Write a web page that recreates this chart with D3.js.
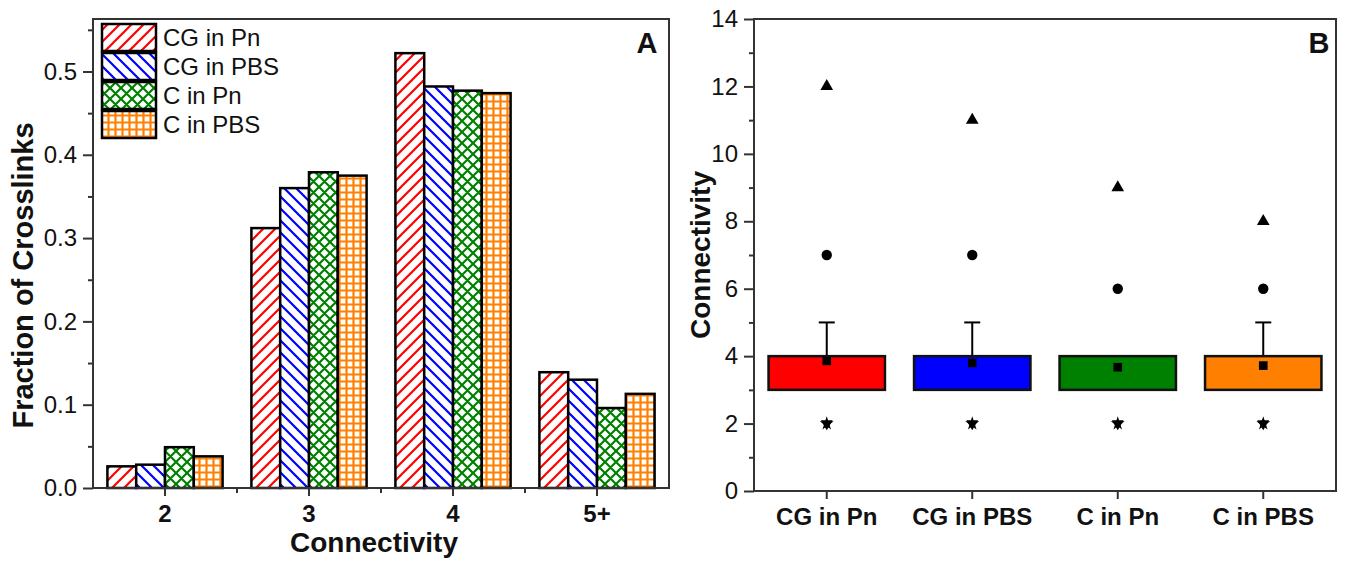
<!DOCTYPE html>
<html>
<head>
<meta charset="utf-8">
<script src="https://d3js.org/d3.v7.min.js"></script>
<style>
  body { margin: 0; background: #fff; }
  svg { font-family: "Liberation Sans", Arial, sans-serif; }
</style>
</head>
<body>
<script>
// panel A data
var categoriesA = ["2", "3", "4", "5+"];
var seriesNames = ["CG in Pn", "CG in PBS", "C in Pn", "C in PBS"];
var cgInPn  = [0.026, 0.312, 0.522, 0.139];
var cgInPbs = [0.028, 0.360, 0.482, 0.130];
var cInPn   = [0.049, 0.379, 0.477, 0.096];
var cInPbs  = [0.038, 0.375, 0.474, 0.113];
var ticksA = [0, 0.1, 0.2, 0.3, 0.4, 0.5];

// panel B data (box stats)
var q1Vals       = [3, 3, 3, 3];
var q3Vals       = [4, 4, 4, 4];
var whiskerHigh  = [5, 5, 4, 5];
var meanVals     = [3.86, 3.80, 3.67, 3.72];
var p99Vals      = [7, 7, 6, 6];
var maxVals      = [12, 11, 9, 8];
var minVals      = [2, 2, 2, 2];
var ticksB = [0, 2, 4, 6, 8, 10, 12, 14];

var colors = ["#ff0000", "#0000ff", "#008000", "#ff8000"];
var patternIds = ["pRed", "pBlue", "pGreen", "pOrange"];
var frameColor = "#333";

var svg = d3.select("body").append("svg")
  .attr("width", 1347)
  .attr("height", 562);

// hatch patterns
var defs = svg.append("defs");
function hatch(id, size, d, color) {
  var p = defs.append("pattern")
    .attr("id", id)
    .attr("patternUnits", "userSpaceOnUse")
    .attr("width", size).attr("height", size);
  p.append("rect").attr("width", size).attr("height", size).attr("fill", "#fff");
  p.append("path").attr("d", d).attr("stroke", color).attr("stroke-width", 2.2).attr("fill", "none");
}
hatch("pRed", 12, "M-3,3L3,-3M0,12L12,0M9,15L15,9", colors[0]);
hatch("pBlue", 12, "M-3,9L3,15M0,0L12,12M9,-3L15,3", colors[1]);
hatch("pGreen", 11, "M-3,3L3,-3M0,11L11,0M8,14L14,8M-3,8L3,14M0,0L11,11M8,-3L14,3", colors[2]);
hatch("pOrange", 7, "M3.5,0V7M0,3.5H7", colors[3]);

// ---------------- Panel A ----------------
var A = {left: 93, right: 669, top: 19, bottom: 488};
var allSeries = [cgInPn, cgInPbs, cInPn, cInPbs];

var x0 = d3.scaleBand().domain(categoriesA).range([A.left, A.right])
  .paddingInner(0.2).paddingOuter(0.1);
var x1 = d3.scaleBand().domain(seriesNames).range([0, x0.bandwidth()]);
var yA = d3.scaleLinear().domain([0, 0.563]).range([A.bottom, A.top]);

var gA = svg.append("g");

categoriesA.forEach(function(c, ci) {
  seriesNames.forEach(function(s, si) {
    var v = allSeries[si][ci];
    gA.append("rect")
      .attr("x", x0(c) + x1(s))
      .attr("y", yA(v))
      .attr("width", x1.bandwidth())
      .attr("height", yA(0) - yA(v))
      .attr("fill", "url(#" + patternIds[si] + ")")
      .attr("stroke", "#000")
      .attr("stroke-width", 2.5);
  });
});

// y axis A
gA.append("g")
  .attr("transform", "translate(" + A.left + ",0)")
  .call(d3.axisLeft(yA).tickValues(ticksA).tickSize(10).tickPadding(6).tickFormat(d3.format(".1f")))
  .call(function(g) { g.select(".domain").remove(); })
  .call(function(g) {
    g.selectAll("line").attr("stroke", frameColor).attr("stroke-width", 2);
    g.selectAll("text").attr("font-size", 24).attr("font-family", null).attr("fill", "#111");
  });
gA.append("g")
  .attr("transform", "translate(" + A.left + ",0)")
  .call(d3.axisLeft(yA).tickValues([0.05, 0.15, 0.25, 0.35, 0.45, 0.55]).tickSize(5).tickFormat(""))
  .call(function(g) { g.select(".domain").remove(); g.selectAll("line").attr("stroke", frameColor).attr("stroke-width", 2); });

// x axis A
gA.append("g")
  .attr("transform", "translate(0," + A.bottom + ")")
  .call(d3.axisBottom(x0).tickSize(8).tickPadding(9))
  .call(function(g) { g.select(".domain").remove(); })
  .call(function(g) {
    g.selectAll("line").attr("stroke", frameColor).attr("stroke-width", 2);
    g.selectAll("text").attr("font-size", 24).attr("font-weight", "bold").attr("font-family", null).attr("fill", "#111");
  });
// minor ticks at band boundaries
var boundaries = categoriesA.slice(1).map(function(c) { return x0(c) - x0.step() * 0.1; });
gA.selectAll(".minorx").data(boundaries).enter().append("line")
  .attr("x1", function(d) { return d; }).attr("x2", function(d) { return d; })
  .attr("y1", A.bottom).attr("y2", A.bottom + 5)
  .attr("stroke", frameColor).attr("stroke-width", 2);

gA.append("rect")
  .attr("x", A.left).attr("y", A.top)
  .attr("width", A.right - A.left).attr("height", A.bottom - A.top)
  .attr("fill", "none").attr("stroke", frameColor).attr("stroke-width", 2);

gA.append("text")
  .attr("x", 374).attr("y", 552)
  .attr("text-anchor", "middle")
  .attr("font-size", 28).attr("font-weight", "bold").attr("fill", "#111")
  .text("Connectivity");
gA.append("text")
  .attr("transform", "translate(33," + ((A.top + A.bottom) / 2 + 22) + ") rotate(-90)")
  .attr("text-anchor", "middle")
  .attr("font-size", 29).attr("font-weight", "bold").attr("fill", "#111")
  .text("Fraction of Crosslinks");
gA.append("text")
  .attr("x", 647).attr("y", 53)
  .attr("text-anchor", "middle")
  .attr("font-size", 29).attr("font-weight", "bold").attr("fill", "#111")
  .text("A");

// legend
var legend = gA.append("g");
seriesNames.forEach(function(s, i) {
  legend.append("rect")
    .attr("x", 102).attr("y", 24 + i * 29)
    .attr("width", 54).attr("height", 27)
    .attr("fill", "url(#" + patternIds[i] + ")")
    .attr("stroke", "#000").attr("stroke-width", 2.5);
  legend.append("text")
    .attr("x", 163).attr("y", 24 + i * 29 + 13.5)
    .attr("dy", "0.35em")
    .attr("font-size", 24).attr("fill", "#111")
    .text(s);
});

// ---------------- Panel B ----------------
var B = {left: 754, right: 1336, top: 19, bottom: 491};
var xB = d3.scaleBand().domain(seriesNames).range([B.left, B.right])
  .paddingInner(0.2).paddingOuter(0.1);
var yB = d3.scaleLinear().domain([0, 14]).range([B.bottom, B.top]);
var gB = svg.append("g");

gB.append("g")
  .attr("transform", "translate(" + B.left + ",0)")
  .call(d3.axisLeft(yB).tickValues(ticksB).tickSize(10).tickPadding(6))
  .call(function(g) { g.select(".domain").remove(); })
  .call(function(g) {
    g.selectAll("line").attr("stroke", frameColor).attr("stroke-width", 2);
    g.selectAll("text").attr("font-size", 24).attr("font-family", null).attr("fill", "#111");
  });
gB.append("g")
  .attr("transform", "translate(" + B.left + ",0)")
  .call(d3.axisLeft(yB).tickValues([1, 3, 5, 7, 9, 11, 13]).tickSize(5).tickFormat(""))
  .call(function(g) { g.select(".domain").remove(); g.selectAll("line").attr("stroke", frameColor).attr("stroke-width", 2); });

gB.append("g")
  .attr("transform", "translate(0," + B.bottom + ")")
  .call(d3.axisBottom(xB).tickSize(8).tickPadding(9))
  .call(function(g) { g.select(".domain").remove(); })
  .call(function(g) {
    g.selectAll("line").attr("stroke", frameColor).attr("stroke-width", 2);
    g.selectAll("text").attr("font-size", 24).attr("font-weight", "bold").attr("font-family", null).attr("fill", "#111");
  });

seriesNames.forEach(function(s, i) {
  var cx = xB(s) + xB.bandwidth() / 2;
  // whisker
  if (whiskerHigh[i] > q3Vals[i]) {
    gB.append("line")
      .attr("x1", cx).attr("x2", cx)
      .attr("y1", yB(q3Vals[i])).attr("y2", yB(whiskerHigh[i]))
      .attr("stroke", "#000").attr("stroke-width", 2);
    gB.append("line")
      .attr("x1", cx - 8).attr("x2", cx + 8)
      .attr("y1", yB(whiskerHigh[i])).attr("y2", yB(whiskerHigh[i]))
      .attr("stroke", "#000").attr("stroke-width", 2);
  }
  gB.append("rect")
    .attr("x", xB(s)).attr("y", yB(q3Vals[i]))
    .attr("width", xB.bandwidth()).attr("height", yB(q1Vals[i]) - yB(q3Vals[i]))
    .attr("fill", colors[i]).attr("stroke", "#111").attr("stroke-width", 2.5);
  // mean
  gB.append("path")
    .attr("transform", "translate(" + cx + "," + yB(meanVals[i]) + ")")
    .attr("d", d3.symbol().type(d3.symbolSquare).size(75)())
    .attr("fill", "#000");
  // 99%
  gB.append("path")
    .attr("transform", "translate(" + cx + "," + yB(p99Vals[i]) + ")")
    .attr("d", d3.symbol().type(d3.symbolCircle).size(85)())
    .attr("fill", "#000");
  // max
  gB.append("path")
    .attr("transform", "translate(" + cx + "," + yB(maxVals[i]) + ")")
    .attr("d", d3.symbol().type(d3.symbolTriangle).size(70)())
    .attr("fill", "#000");
  // min / 1%
  gB.append("path")
    .attr("transform", "translate(" + cx + "," + yB(minVals[i]) + ") rotate(180)")
    .attr("d", d3.symbol().type(d3.symbolTriangle).size(60)())
    .attr("fill", "#000");
  gB.append("path")
    .attr("transform", "translate(" + cx + "," + yB(minVals[i]) + ")")
    .attr("d", d3.symbol().type(d3.symbolStar).size(60)())
    .attr("fill", "#000");
});

gB.append("rect")
  .attr("x", B.left).attr("y", B.top)
  .attr("width", B.right - B.left).attr("height", B.bottom - B.top)
  .attr("fill", "none").attr("stroke", frameColor).attr("stroke-width", 2);

gB.append("text")
  .attr("transform", "translate(710," + ((B.top + B.bottom) / 2) + ") rotate(-90)")
  .attr("text-anchor", "middle")
  .attr("font-size", 28).attr("font-weight", "bold").attr("fill", "#111")
  .text("Connectivity");
gB.append("text")
  .attr("x", 1319).attr("y", 53)
  .attr("text-anchor", "middle")
  .attr("font-size", 29).attr("font-weight", "bold").attr("fill", "#111")
  .text("B");
</script>
</body>
</html>
